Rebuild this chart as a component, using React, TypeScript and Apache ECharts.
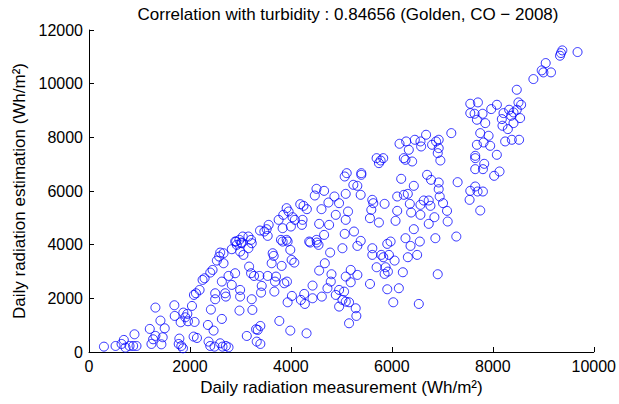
import React, { useEffect, useRef } from "react";
import * as echarts from "echarts";

const titleText = "Correlation with turbidity : 0.84656 (Golden, CO \u2212 2008)";
const xAxisName = "Daily radiation measurement (Wh/m\u00B2)";
const yAxisName = "Daily radiation estimation (Wh/m\u00B2)";

// [measurement, estimation] pairs, Wh/m²
const lowCluster: [number, number][] = [
  [296,200],[526,225],[645,300],[690,450],[724,163],[803,225],[875,225],[941,225],[901,660],[1204,860],
  [1237,300],[1270,474],[1316,600],[1415,1170],[1434,287],[1460,550],[1500,884],[1316,1655],[1691,1742],[1698,1344],
  [1790,499],[1777,300],[1829,225],[1862,138],[1869,1468],[1908,1294],[1948,1419],[1816,1108],[1961,1145],[2040,1717],
  [2092,1120],[2073,573],[2139,523],[2079,2127],[2119,2189],[2191,2313],[2250,2686],[2290,2748],[2369,387],[2415,1580],
  [2356,1008],[2468,797],[2402,225],[2487,200],[2599,325],[2645,200],[2711,225],[2764,175],[2632,1232],[2500,2189],
  [2500,1966],[2698,2189],[2711,2065],[2402,2960],[2448,3059],[2533,3407],[2579,3556],[2599,3706],[2665,3308],[2665,3681],
  [2632,2624],[2764,2835],[2895,2935],[2829,2500],[2994,2313],[2994,2065],[2981,1543],[3126,598],[3172,3184],[3211,2935],
  [3224,1966],[3237,1568],[3270,2835],[3310,847],[3323,387],[2829,3830],[2928,3992],[2994,3743],[3060,3619],[3158,3867],
  [3224,4054],[3027,4054],[2895,4116],
];

const midLowCluster: [number, number][] = [
  [3836,4116],[3935,4116],[4382,4079],[4514,4079],[4547,3992],[5021,3867],[5317,3954],[5383,4141],[5613,3867],[5613,3619],
  [5791,3619],[5830,3532],[5942,3619],[5909,4029],[5975,4116],[6317,3532],[6370,3954],[6501,3619],[6554,4116],[3639,3681],
  [3659,3581],[3619,3308],[3817,3208],[3988,3805],[4014,3432],[4067,3333],[4777,3706],[4672,3308],[4560,3034],[4804,2898],
  [4790,2624],[4724,2376],[4429,2475],[4264,2164],[4198,1941],[4277,1791],[4429,2003],[4613,2065],[4889,2127],[4955,2313],
  [5054,2251],[5087,2811],[5185,3059],[5317,2873],[5185,2599],[5021,1941],[5087,1878],[4955,1692],[5152,1853],[5284,1630],
  [5297,1344],[5152,1070],[4020,2090],[3935,1853],[3376,2835],[3422,2463],[3409,2214],[3540,2835],[3685,2624],[3705,2811],
  [3869,2562],[3922,2624],[3672,2251],[3771,1157],[3988,797],[4310,697],[3395,300],[3395,971],[3343,822],[5567,2537],
  [5698,3159],[5876,3159],[5856,2910],[5922,2997],[6054,3407],[6218,2972],[5909,2338],[6139,2376],[6028,1853],[6534,1791],
  [6909,2898],
];

const midCluster: [number, number][] = [
  [5066,6541],[5106,6665],[4507,6081],[4658,6006],[4474,5832],[4862,5795],[4954,5546],[5086,5894],[4744,5571],[4606,5323],
  [4889,5111],[5086,4925],[4185,5509],[4250,5447],[4316,5323],[3915,5360],[3954,5236],[3849,5111],[3757,4925],[4033,5024],
  [4079,4925],[4231,4925],[4217,4738],[4000,4676],[3836,4614],[4560,4776],[4757,4738],[4658,4365],[5066,4403],[3803,4179],
  [3915,4179],[3559,4738],[3520,4577],[3474,4490],[3540,4328],[3388,4527],[4362,4117],[4507,4179],[3158,4303],[3046,4303],
  [2980,4179],[3211,4179],[2915,4117],[3013,4079],
];

const upperMidCluster: [number, number][] = [
  [6336,7535],[6580,7659],[6928,7597],[6909,7411],[6961,7137],[6237,7224],[6270,7162],[6402,7100],[5698,7224],[5744,7038],
  [5829,7224],[5777,7137],[5395,6665],[5395,6603],[5237,6230],[5316,6193],[5382,5857],[6185,6454],[6698,6603],[6777,6416],
  [6435,6193],[6928,6317],[7303,6329],[6928,6068],[6948,5795],[6106,5795],[6237,5857],[6316,5894],[6356,5521],[6566,5484],
  [6632,5646],[6731,5646],[6764,5447],[7014,5546],[7093,5260],[5612,5670],[5632,5546],[5593,5298],[5566,4987],[5856,5521],
  [6106,5260],[6073,4888],[5744,4825],[6382,5198],[6566,5111],[6843,5024],[6731,4776],[7106,4863],[6435,4577],[6270,4241],
  [6862,4241],[7277,4303],[5132,5236],[5250,4490],
];

const rightCluster: [number, number][] = [
  [7652,7311],[7652,7224],[8080,7349],[7948,7684],[7830,7013],[7652,6814],[7804,6814],[8133,6727],[8027,6566],[7652,6168],
  [7554,6006],[7698,5981],[7804,5981],[7540,5670],[7751,5273],
];

const highCluster: [number, number][] = [
  [7554,9251],[7705,9301],[7554,8903],[7639,8878],[7685,8655],[7797,8878],[7850,8530],[7751,8157],[7178,8157],[6678,8096],
  [6455,7909],[6567,7847],[6283,7847],[6152,7760],[6876,7847],[6928,7909],[6797,7722],[7685,7722],[7817,7809],
];

const topCluster: [number, number][] = [
  [9679,11178],[9377,11240],[9350,11141],[9331,11042],[9048,10768],[8969,10495],[9002,10420],[9153,10420],[8804,10171],[8475,9773],
  [8081,9214],[7969,9053],[8212,8903],[8324,9028],[8508,9301],[8561,9214],[8475,9028],[8363,8804],[8179,8680],[8541,8717],
  [8410,8531],[8192,8431],[8298,8307],[7916,8058],[8245,7847],[8377,7909],[8521,7909],[8410,8928],
];

const xTicks = { min: 0, max: 10000, interval: 2000 };
const yTicks = { min: 0, max: 12000, interval: 2000 };

const FONT = "'Liberation Sans', Arial, Helvetica, sans-serif";

export default function App() {
  const ref = useRef<HTMLDivElement>(null);
  useEffect(() => {
    if (!ref.current) return;
    const chart = echarts.init(ref.current, null, { renderer: "svg" });
    const data = [
      ...lowCluster,
      ...midLowCluster,
      ...midCluster,
      ...upperMidCluster,
      ...rightCluster,
      ...highCluster,
      ...topCluster,
    ];
    chart.setOption({
      animation: false,
      backgroundColor: "#ffffff",
      title: {
        text: titleText,
        left: 343,
        textAlign: "center",
        top: 1,
        textStyle: { fontFamily: FONT, fontSize: 17, fontWeight: "normal", color: "#000" },
      },
      grid: { left: 89, right: 23, top: 30, bottom: 52, containLabel: false },
      xAxis: {
        type: "value",
        min: xTicks.min,
        max: xTicks.max,
        interval: xTicks.interval,
        name: xAxisName,
        nameLocation: "middle",
        nameGap: 27,
        nameTextStyle: { fontFamily: FONT, fontSize: 17, color: "#000" },
        axisLine: { show: true, lineStyle: { color: "#000", width: 1 } },
        axisTick: { show: true, inside: true, length: 5, lineStyle: { color: "#000" } },
        axisLabel: {
          fontFamily: FONT,
          fontSize: 16,
          color: "#000",
          margin: 6,
          formatter: (v: number) => String(v),
        },
        splitLine: { show: false },
      },
      yAxis: {
        type: "value",
        min: yTicks.min,
        max: yTicks.max,
        interval: yTicks.interval,
        name: yAxisName,
        nameLocation: "middle",
        nameGap: 58,
        nameTextStyle: { fontFamily: FONT, fontSize: 17, color: "#000" },
        axisLine: { show: true, lineStyle: { color: "#000", width: 1 } },
        axisTick: { show: true, inside: true, length: 5, lineStyle: { color: "#000" } },
        axisLabel: {
          fontFamily: FONT,
          fontSize: 16,
          color: "#000",
          margin: 6,
          formatter: (v: number) => String(v),
        },
        splitLine: { show: false },
      },
      series: [
        {
          type: "scatter",
          data,
          symbol: "circle",
          symbolSize: 9,
          itemStyle: { color: "rgba(0,0,0,0)", borderColor: "#0000ff", borderWidth: 1 },
          emphasis: { disabled: true },
        },
      ],
    });
    return () => chart.dispose();
  }, []);
  return (
    <div
      ref={ref}
      style={{ position: "fixed", left: 0, top: 0, width: 619, height: 404, background: "#fff" }}
    />
  );
}
